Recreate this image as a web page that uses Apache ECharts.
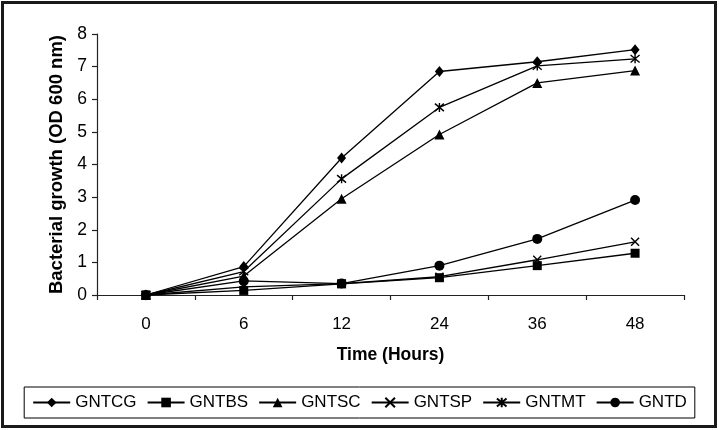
<!DOCTYPE html>
<html>
<head>
<meta charset="utf-8">
<script src="https://cdn.jsdelivr.net/npm/echarts@6/dist/echarts.min.js"></script>
<style>
html,body{margin:0;padding:0;background:#fff;}
#chart{width:719px;height:430px;}
</style>
</head>
<body>
<div id="chart"></div>
<script>
var categories = ['0', '6', '12', '24', '36', '48'];
var GNTCG = [0, 0.87, 4.2, 6.85, 7.15, 7.52];
var GNTBS = [0, 0.14, 0.34, 0.53, 0.9, 1.28];
var GNTSC = [0, 0.58, 2.95, 4.92, 6.5, 6.88];
var GNTSP = [0, 0.25, 0.35, 0.56, 1.08, 1.63];
var GNTMT = [0, 0.72, 3.56, 5.75, 7.02, 7.24];
var GNTD  = [0, 0.43, 0.35, 0.9, 1.72, 2.91];
var yTicks = [0, 1, 2, 3, 4, 5, 6, 7, 8];

var FONT = '"Liberation Sans", Arial, sans-serif';
var crossPath = 'path://M0 0 L10 10 M10 0 L0 10';
var starPath = 'path://M0 0 L10 10 M10 0 L0 10 M5 -1 L5 11';

function mk(name, data, symbol, size, stroked) {
  return {
    name: name,
    type: 'line',
    data: data,
    symbol: symbol,
    symbolSize: size,
    showAllSymbol: true,
    lineStyle: {color: '#000', width: 1.3},
    itemStyle: stroked ? {color: 'rgba(0,0,0,0)', borderColor: '#000', borderWidth: 1.4}
                       : {color: '#000', borderColor: '#000', borderWidth: 0},
    emphasis: {disabled: true},
    z: 3
  };
}

var chart = echarts.init(document.getElementById('chart'), null, {renderer: 'canvas'});
chart.setOption({
  animation: false,
  backgroundColor: '#fff',
  textStyle: {fontFamily: FONT},
  graphic: [{
    type: 'rect',
    shape: {x: 2.5, y: 2.5, width: 713, height: 424},
    style: {fill: 'none', stroke: '#1a1a1a', lineWidth: 3},
    silent: true
  }],
  grid: {left: 97, right: 35, top: 34, bottom: 135},
  legend: {
    top: 387,
    left: 'center',
    padding: [7, 8, 7, 8],
    borderColor: '#000',
    borderWidth: 1,
    itemGap: 10,
    itemWidth: 37,
    itemHeight: 12,
    textStyle: {fontSize: 17, color: '#000', fontFamily: FONT},
    data: ['GNTCG', 'GNTBS', 'GNTSC', 'GNTSP', 'GNTMT', 'GNTD']
  },
  xAxis: {
    type: 'category',
    data: categories,
    boundaryGap: true,
    name: 'Time (Hours)',
    nameLocation: 'middle',
    nameGap: 51,
    nameTextStyle: {fontSize: 17.5, fontWeight: 'bold', color: '#000', fontFamily: FONT},
    axisLine: {lineStyle: {color: '#222', width: 1.2}},
    axisTick: {show: true, length: 5, lineStyle: {color: '#222', width: 1.2}},
    axisLabel: {fontSize: 17, color: '#000', margin: 21, fontFamily: FONT},
    splitLine: {show: false}
  },
  yAxis: {
    type: 'value',
    min: yTicks[0],
    max: yTicks[yTicks.length - 1],
    interval: 1,
    name: 'Bacterial growth (OD 600 nm)',
    nameLocation: 'middle',
    nameGap: 24,
    nameTextStyle: {fontSize: 18.5, fontWeight: 'bold', color: '#000', fontFamily: FONT},
    axisLine: {show: true, lineStyle: {color: '#222', width: 1.2}},
    axisTick: {show: true, length: 5, lineStyle: {color: '#222', width: 1.2}},
    axisLabel: {fontSize: 17.5, color: '#000', margin: 10, fontFamily: FONT},
    splitLine: {show: false}
  },
  series: [
    mk('GNTCG', GNTCG, 'diamond', [9, 11], false),
    mk('GNTBS', GNTBS, 'rect', 9, false),
    mk('GNTSC', GNTSC, 'triangle', 10, false),
    mk('GNTSP', GNTSP, crossPath, 8, true),
    mk('GNTMT', GNTMT, starPath, 9, true),
    mk('GNTD', GNTD, 'circle', 10, false)
  ]
});
</script>
</body>
</html>
